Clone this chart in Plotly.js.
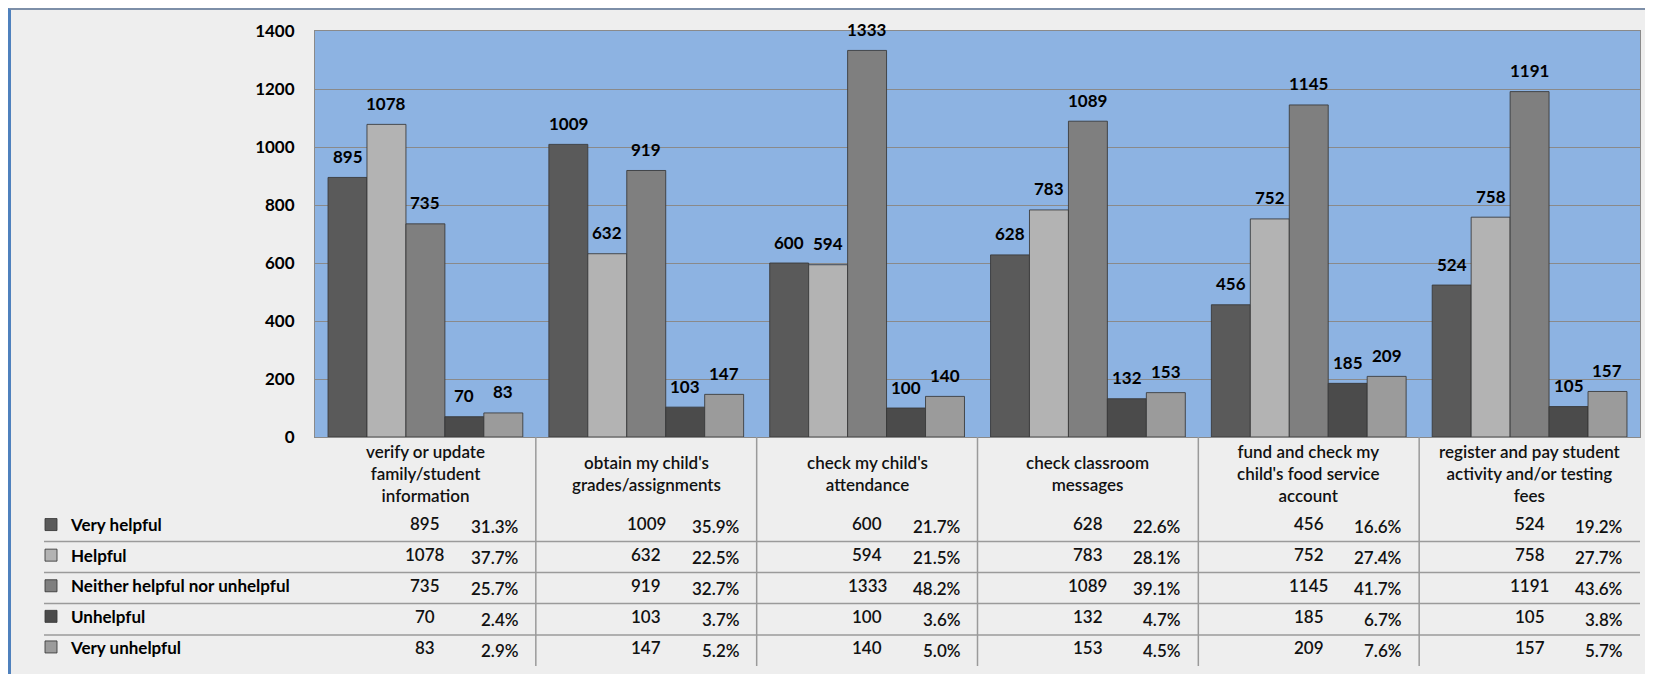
<!DOCTYPE html>
<html><head><meta charset="utf-8">
<script src="https://cdn.plot.ly/plotly-3.0.1.min.js"></script>
<style>
html,body{margin:0;padding:0;background:#ffffff;width:1656px;height:674px;overflow:hidden;}
#frame{position:absolute;left:8px;top:8px;width:1637px;height:680px;background:#eeeeee;border-left:3px solid #4f81bd;border-top:2px solid #7d8fa8;box-sizing:border-box;}
#chart{position:absolute;left:0;top:0;width:1656px;height:674px;}
</style></head><body>
<div id="frame"></div><div id="chart"></div>
<script>
// ---- data ----
const categories = [
  "verify or update family/student information",
  "obtain my child's grades/assignments",
  "check my child's attendance",
  "check classroom messages",
  "fund and check my child's food service account",
  "register and pay student activity and/or testing fees"
];
const categoryLabels = [
  "verify or update<br>family/student<br>information",
  "obtain my child's<br>grades/assignments",
  "check my child's<br>attendance",
  "check classroom<br>messages",
  "fund and check my<br>child's food service<br>account",
  "register and pay student<br>activity and/or testing<br>fees"
];
const seriesNames = ["Very helpful", "Helpful", "Neither helpful nor unhelpful", "Unhelpful", "Very unhelpful"];
const veryHelpful   = [895, 1009, 600, 628, 456, 524];
const helpful       = [1078, 632, 594, 783, 752, 758];
const neither       = [735, 919, 1333, 1089, 1145, 1191];
const unhelpful     = [70, 103, 100, 132, 185, 105];
const veryUnhelpful = [83, 147, 140, 153, 209, 157];
const veryHelpfulPct   = ["31.3%", "35.9%", "21.7%", "22.6%", "16.6%", "19.2%"];
const helpfulPct       = ["37.7%", "22.5%", "21.5%", "28.1%", "27.4%", "27.7%"];
const neitherPct       = ["25.7%", "32.7%", "48.2%", "39.1%", "41.7%", "43.6%"];
const unhelpfulPct     = ["2.4%", "3.7%", "3.6%", "4.7%", "6.7%", "3.8%"];
const veryUnhelpfulPct = ["2.9%", "5.2%", "5.0%", "4.5%", "7.6%", "5.7%"];
const yTickVals = [0, 200, 400, 600, 800, 1000, 1200, 1400];

// ---- styling ----
const seriesValues = [veryHelpful, helpful, neither, unhelpful, veryUnhelpful];
const seriesPct = [veryHelpfulPct, helpfulPct, neitherPct, unhelpfulPct, veryUnhelpfulPct];
const seriesColors = ["#5a5a5a", "#b3b3b3", "#7f7f7f", "#4b4b4b", "#9b9b9b"];
const FONT = "Lato, 'Liberation Sans', sans-serif";
const BARGAP = 0.118;
const W = 1656, H = 674, ML = 315, MR = 16, MT = 31, MB = 237;
const plotH = H - MT - MB, plotW = W - ML - MR;
const BASE = MT + plotH;                             // page pixel y of the plot bottom
const py = p => (BASE - p) / plotH;                  // page pixel y -> paper y
const px = p => (p - ML) / plotW;                    // page pixel x -> paper x

const traces = seriesNames.map((name, s) => ({
  type: "bar",
  name: name,
  legendgroup: name,
  x: categories,
  y: seriesValues[s],
  marker: {color: seriesColors[s], line: {color: "rgba(55,55,55,0.85)", width: 1}},
  hoverinfo: "x+y+name"
}));

const annotations = [];
const barW = (1 - BARGAP) / seriesNames.length;
// data labels above the bars
seriesValues.forEach((vals, s) => {
  vals.forEach((v, g) => {
    annotations.push({
      xref: "x", yref: "y", x: g + (s - (seriesNames.length - 1) / 2) * barW, y: v,
      text: String(v), showarrow: false, yanchor: "middle", yshift: 21,
      font: {family: FONT, size: 17, color: "#000", weight: 700}
    });
  });
});
// category labels (data table header)
categoryLabels.forEach((lab, g) => {
  annotations.push({
    xref: "x", yref: "paper", x: g, y: 0, yanchor: "middle", yshift: -(473 - BASE),
    text: lab, showarrow: false, align: "center",
    font: {family: FONT, size: 17, color: "#111", weight: 600}
  });
});
// data table values
seriesValues.forEach((vals, s) => {
  const rowY = 523 + 31 * s;
  vals.forEach((v, g) => {
    annotations.push({
      xref: "x", yref: "paper", x: g, y: 0, yanchor: "middle", yshift: -(rowY - BASE),
      text: String(v), showarrow: false,
      font: {family: FONT, size: 17, color: "#111", weight: 600}
    });
    annotations.push({
      xref: "x", yref: "paper", x: g + 0.5, y: 0, xanchor: "right", xshift: -15,
      yanchor: "middle", yshift: -(rowY + 3 - BASE),
      text: seriesPct[s][g], showarrow: false,
      font: {family: FONT, size: 17, color: "#111", weight: 600}
    });
  });
});

const shapes = [];
for (let g = 0; g < categories.length - 1; g++) {
  shapes.push({type: "line", xref: "x", yref: "paper", x0: g + 0.5, x1: g + 0.5,
    y0: 0, y1: py(666), line: {color: "#9a9a9a", width: 1.5}});
}
[541.5, 572.5, 603.5, 635].forEach(yy => {
  shapes.push({type: "line", xref: "paper", yref: "paper", x0: px(44), x1: 1,
    y0: py(yy), y1: py(yy), line: {color: "#9a9a9a", width: 1.5}});
});

const layout = {
  width: W, height: H,
  margin: {l: ML, r: MR, t: MT, b: MB, pad: 0, autoexpand: false},
  paper_bgcolor: "rgba(0,0,0,0)",
  plot_bgcolor: "#8db3e2",
  barmode: "group", bargap: BARGAP, bargroupgap: 0,
  font: {family: FONT, size: 17, color: "#000"},
  xaxis: {type: "category", showticklabels: false, ticks: "", showgrid: false,
    showline: true, mirror: true, linecolor: "#8a8a8a", linewidth: 1, zeroline: false, fixedrange: true},
  yaxis: {range: [0, 1400], tickvals: yTickVals, ticks: "", ticklabelstandoff: 16,
    showgrid: true, gridcolor: "#8a8a8a", gridwidth: 1,
    showline: true, mirror: true, linecolor: "#8a8a8a", linewidth: 1, zeroline: false,
    tickfont: {family: FONT, size: 17, color: "#000", weight: 700}, fixedrange: true},
  showlegend: true,
  legend: {xref: "container", yref: "container", x: 31 / W, xanchor: "left",
    y: 1 - 507 / H, yanchor: "top",
    orientation: "v", traceorder: "grouped", tracegroupgap: 5.5, itemwidth: 30,
    bgcolor: "rgba(0,0,0,0)", borderwidth: 0,
    font: {family: FONT, size: 17, color: "#000", weight: 700}},
  annotations: annotations,
  shapes: shapes
};

Plotly.newPlot("chart", traces, layout, {displayModeBar: false, staticPlot: true});
</script>
</body></html>
